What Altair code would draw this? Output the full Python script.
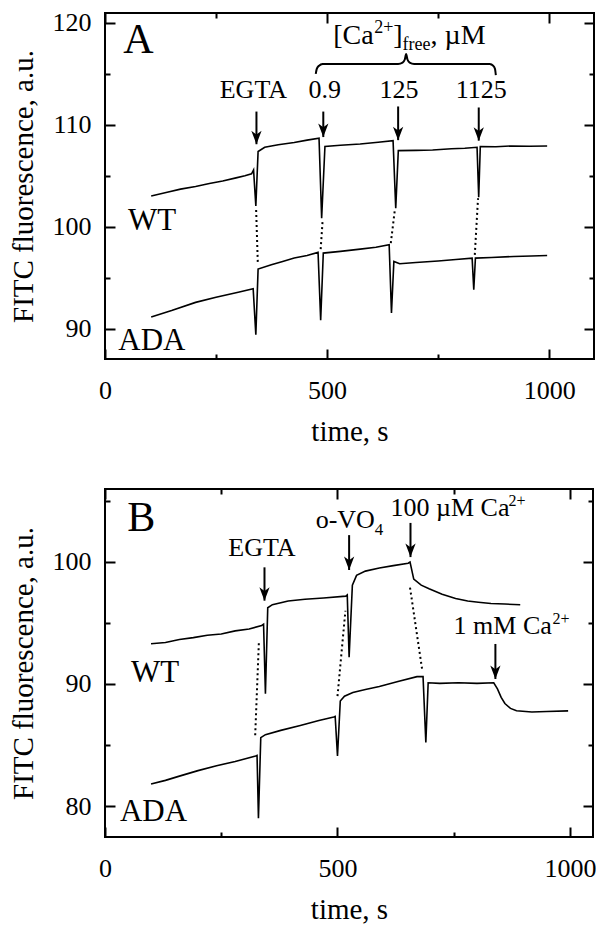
import altair as alt
import pandas as pd

FONT = "Liberation Serif"

# ---------------- Panel A ----------------
a_wt_t = [104, 140, 170, 204, 235, 265, 295, 315, 330, 334.5, 339.6, 344.7, 359.6, 390, 426, 455, 481.9,
          487.8, 495.2, 530, 574.6, 615, 648.6, 654.6, 660.4, 700, 737.6, 780, 810, 837.7, 841.4, 845,
          880, 915.5, 955, 995.5]
a_wt_f = [103.03, 103.4, 103.7, 103.95, 104.25, 104.5, 104.8, 105.0, 105.2, 105.58, 102.05, 107.38, 107.8,
          108.05, 108.26, 108.5, 108.68, 100.85, 107.87, 108.0, 108.12, 108.3, 108.45, 101.83, 107.47,
          107.5, 107.53, 107.65, 107.7, 107.8, 102.9, 107.87, 107.85, 107.93, 107.9, 107.93]
a_ada_t = [104, 150, 204, 250, 300, 333.6, 339.6, 344.7, 374.5, 400, 426, 455, 479.7, 485.6, 491.5, 530,
           574.6, 610, 639.8, 645, 650.4, 663.5, 700, 750, 790, 826.6, 830.3, 834, 870, 920, 960, 995.5]
a_ada_f = [91.17, 91.8, 92.6, 93.1, 93.6, 93.93, 89.43, 95.86, 96.28, 96.6, 96.94, 97.2, 97.5, 90.84, 97.43,
           97.6, 97.82, 98.0, 98.24, 91.56, 96.61, 96.38, 96.5, 96.65, 96.8, 96.94, 93.84, 96.94, 97.0,
           97.1, 97.15, 97.2]
a_dot_t = [340.3, 344.0, 490.0, 485.6, 652.4, 643.5, 839.9, 832.6]
a_dot_f = [101.66, 96.52, 100.63, 97.82, 101.6, 98.4, 102.8, 97.26]
a_dot_g = [0, 0, 1, 1, 2, 2, 3, 3]
a_arrow_x = [341, 491.5, 660, 841.5]
a_arrow_top = [111.3, 111.3, 111.8, 111.7]
a_arrow_tip = [108.1, 108.8, 108.5, 108.45]
a_label_text = ["EGTA", "0.9", "125", "1125"]
a_label_x = [334, 494.5, 662, 847]
a_label_y = [112.6, 112.6, 112.6, 112.6]
a_brace_x = [474.5, 477, 482, 490, 500, 660, 670, 675, 678, 681, 686, 696, 856, 866, 874, 878, 880]
a_brace_y = [115.0, 115.5, 115.8, 115.95, 115.97, 115.97, 116.1, 116.4, 116.93, 116.4, 116.1, 115.97,
             115.97, 115.95, 115.8, 115.5, 114.87]
a_ca_x = 514
a_ca_y = 117.97
a_xdom = [0, 1101]
a_ydom = [87.05, 120.96]
a_xmajor = [0, 500, 1000]
a_xminor = [250, 750]
a_ymajor = [90, 100, 110, 120]
a_yminor = [95, 105, 115]
a_tag = ("A", 41, 117.0)
a_wt_lab = ("WT", 52, 99.7)
a_ada_lab = ("ADA", 30, 87.97)

# ---------------- Panel B ----------------
b_wt_t = [99, 130, 160, 190, 220, 250, 280, 310, 337, 341, 345, 350, 360, 394, 430, 470, 518, 521, 525,
          532, 541, 560, 590, 620, 652, 656, 664, 680, 697, 725, 754, 780, 803, 830, 860, 893]
b_wt_f = [93.3, 93.4, 93.65, 93.8, 94.0, 94.1, 94.35, 94.5, 94.8, 94.9, 89.2, 96.25, 96.5, 96.8, 96.95,
          97.05, 97.2, 97.3, 92.2, 98.1, 98.9, 99.25, 99.5, 99.7, 99.9, 100.0, 98.6, 98.1, 97.8, 97.35,
          97.0, 96.8, 96.7, 96.6, 96.55, 96.5]
b_ada_t = [99, 130, 160, 200, 240, 280, 324, 327, 330, 335, 345, 378, 420, 460, 492, 495, 500, 506, 515,
           533, 560, 590, 630, 671, 684, 690, 695, 720, 760, 800, 836, 844, 852, 860, 872, 885, 918, 950,
           996]
b_ada_f = [81.8, 82.1, 82.45, 82.9, 83.3, 83.65, 84.1, 84.15, 79.0, 85.6, 85.85, 86.2, 86.6, 87.0, 87.3,
           87.35, 84.1, 88.6, 89.0, 89.3, 89.55, 89.8, 90.2, 90.6, 90.6, 85.2, 90.1, 90.05, 90.1, 90.05,
           90.1, 89.6, 88.9, 88.4, 88.0, 87.8, 87.7, 87.75, 87.8]
b_dot_t = [331, 323, 517, 500, 656, 682]
b_dot_f = [93.5, 85.8, 96.0, 89.0, 97.9, 91.2]
b_dot_g = [0, 0, 1, 1, 2, 2]
b_arrow_x = [343, 525, 657, 839.6]
b_arrow_top = [99.56, 102.2, 103.2, 93.28]
b_arrow_tip = [96.83, 99.34, 100.4, 90.41]
b_xdom = [0, 1049.5]
b_ydom = [77.46, 105.98]
b_xmajor = [0, 500, 1000]
b_xminor = [250, 750]
b_ymajor = [80, 90, 100]
b_yminor = [85, 95, 105]
b_tag = ("B", 47.6, 102.57)
b_wt_lab = ("WT", 56, 90.13)
b_ada_lab = ("ADA", 32, 78.77)
b_egta = ("EGTA", 337.5, 100.46)
b_vo4 = ("o-VO", 453, 102.75)
b_ca100 = ("100 \u00b5M Ca", 614, 103.77)
b_ca1 = ("1 mM Ca", 749.7, 94.1)

ARROW = "M0,0 L-0.38,-1 L0,-0.72 L0.38,-1 Z"


def ax(orient, values, major, labels=False, title=None, lpad=14, tpad=10):
    size = 10 if major else 5
    kw = dict(orient=orient, values=values, tickSize=size, offset=-size, domain=False, grid=False,
              ticks=True, tickWidth=2, tickColor="black", labels=labels, title=title)
    if labels:
        kw.update(labelFont=FONT, labelFontSize=26, labelColor="black", labelPadding=lpad,
                  labelFlush=False, labelOverlap=False, format="d")
    if title:
        kw.update(titleFont=FONT, titleFontSize=29, titleFontWeight="normal", titleColor="black",
                  titlePadding=tpad)
    return alt.Axis(**kw)


def text_layer(xs, ys, texts, xsc, ysc, size, align="left", dx=0, dy=0):
    df = pd.DataFrame({"t": xs, "f": ys, "s": texts})
    return alt.Chart(df).mark_text(font=FONT, fontSize=size, align=align, baseline="alphabetic",
                                   dx=dx, dy=dy, color="black").encode(
        x=alt.X("t:Q", scale=xsc, axis=None), y=alt.Y("f:Q", scale=ysc, axis=None), text="s:N")


def panel(wt_t, wt_f, ada_t, ada_f, dot_t, dot_f, dot_g, ar_x, ar_top, ar_tip,
          xdom, ydom, xmaj, xmin, ymaj, ymin, tag, wtl, adal, extra, w, h):
    xs = alt.Scale(domain=xdom, nice=False, zero=False)
    ys = alt.Scale(domain=ydom, nice=False, zero=False)
    wt = alt.Chart(pd.DataFrame({"t": wt_t, "f": wt_f})).mark_line(
        color="black", strokeWidth=1.6).encode(
        x=alt.X("t:Q", scale=xs, axis=ax("bottom", xmaj, True, True, title="time, s", lpad=18, tpad=14)),
        y=alt.Y("f:Q", scale=ys, axis=ax("left", ymaj, True, True,
                                         title="FITC fluorescence, a.u.", lpad=14, tpad=14)))
    ada = alt.Chart(pd.DataFrame({"t": ada_t, "f": ada_f})).mark_line(
        color="black", strokeWidth=1.6).encode(
        x=alt.X("t:Q", scale=xs, axis=ax("bottom", xmin, False)),
        y=alt.Y("f:Q", scale=ys, axis=ax("left", ymin, False)))
    dots = alt.Chart(pd.DataFrame({"t": dot_t, "f": dot_f, "g": dot_g})).mark_line(
        color="black", strokeWidth=2, strokeDash=[2, 3]).encode(
        x=alt.X("t:Q", scale=xs, axis=ax("top", xmaj, True)),
        y=alt.Y("f:Q", scale=ys, axis=ax("right", ymaj, True)),
        detail="g:N")
    adf = pd.DataFrame({"t": ar_x, "f": ar_top, "f2": ar_tip})
    rules = alt.Chart(adf).mark_rule(color="black", strokeWidth=2).encode(
        x=alt.X("t:Q", scale=xs, axis=ax("top", xmin, False)),
        y=alt.Y("f:Q", scale=ys, axis=ax("right", ymin, False)),
        y2=alt.Y2("f2:Q"))
    heads = alt.Chart(adf).mark_point(shape=ARROW, size=729, filled=True, color="black",
                                      opacity=1, strokeWidth=0).encode(
        x=alt.X("t:Q", scale=xs, axis=None), y=alt.Y("f2:Q", scale=ys, axis=None))
    layers = [wt, ada, dots, rules, heads,
              text_layer([tag[1]], [tag[2]], [tag[0]], xs, ys, 42),
              text_layer([wtl[1]], [wtl[2]], [wtl[0]], xs, ys, 31),
              text_layer([adal[1]], [adal[2]], [adal[0]], xs, ys, 31)]
    layers += extra(xs, ys)
    return alt.layer(*layers).resolve_axis(x="independent", y="independent").properties(
        width=w, height=h)


def extra_a(xs, ys):
    bdf = pd.DataFrame({"t": a_brace_x, "f": a_brace_y})
    brace = alt.Chart(bdf).mark_line(color="black", strokeWidth=2, interpolate="monotone").encode(
        x=alt.X("t:Q", scale=xs, axis=None), y=alt.Y("f:Q", scale=ys, axis=None))
    out = [brace,
           text_layer(a_label_x, a_label_y, a_label_text, xs, ys, 26, align="center")]
    # [Ca2+]free, uM  built from pieces
    out.append(text_layer([a_ca_x], [a_ca_y], ["[Ca"], xs, ys, 28))
    out.append(text_layer([a_ca_x], [a_ca_y], ["2+"], xs, ys, 18, dx=41, dy=-11))
    out.append(text_layer([a_ca_x], [a_ca_y], ["]"], xs, ys, 28, dx=60))
    out.append(text_layer([a_ca_x], [a_ca_y], ["free"], xs, ys, 18, dx=69.3, dy=6))
    out.append(text_layer([a_ca_x], [a_ca_y], [", \u00b5M"], xs, ys, 28, dx=97.3))
    return out


def extra_b(xs, ys):
    out = [text_layer([b_egta[1]], [b_egta[2]], [b_egta[0]], xs, ys, 26, align="center"),
           text_layer([b_vo4[1]], [b_vo4[2]], [b_vo4[0]], xs, ys, 26),
           text_layer([b_vo4[1]], [b_vo4[2]], ["4"], xs, ys, 17, dx=59.2, dy=7),
           text_layer([b_ca100[1]], [b_ca100[2]], [b_ca100[0]], xs, ys, 26),
           text_layer([b_ca100[1]], [b_ca100[2]], ["2+"], xs, ys, 16, dx=118, dy=-10),
           text_layer([b_ca1[1]], [b_ca1[2]], [b_ca1[0]], xs, ys, 26),
           text_layer([b_ca1[1]], [b_ca1[2]], ["2+"], xs, ys, 16, dx=99, dy=-10)]
    return out


pa = panel(a_wt_t, a_wt_f, a_ada_t, a_ada_f, a_dot_t, a_dot_f, a_dot_g, a_arrow_x, a_arrow_top,
           a_arrow_tip, a_xdom, a_ydom, a_xmajor, a_xminor, a_ymajor, a_yminor, a_tag, a_wt_lab,
           a_ada_lab, extra_a, 489, 346)
pb = panel(b_wt_t, b_wt_f, b_ada_t, b_ada_f, b_dot_t, b_dot_f, b_dot_g, b_arrow_x, b_arrow_top,
           b_arrow_tip, b_xdom, b_ydom, b_xmajor, b_xminor, b_ymajor, b_yminor, b_tag, b_wt_lab,
           b_ada_lab, extra_b, 488, 348)

chart = alt.vconcat(pa, pb, spacing=40).properties(
    padding={"left": 0, "top": 0, "right": -1, "bottom": 0},
    background="white",
).configure_view(stroke="black", strokeWidth=2)

chart.save("out.html", embed_options={"renderer": "svg", "actions": False})
